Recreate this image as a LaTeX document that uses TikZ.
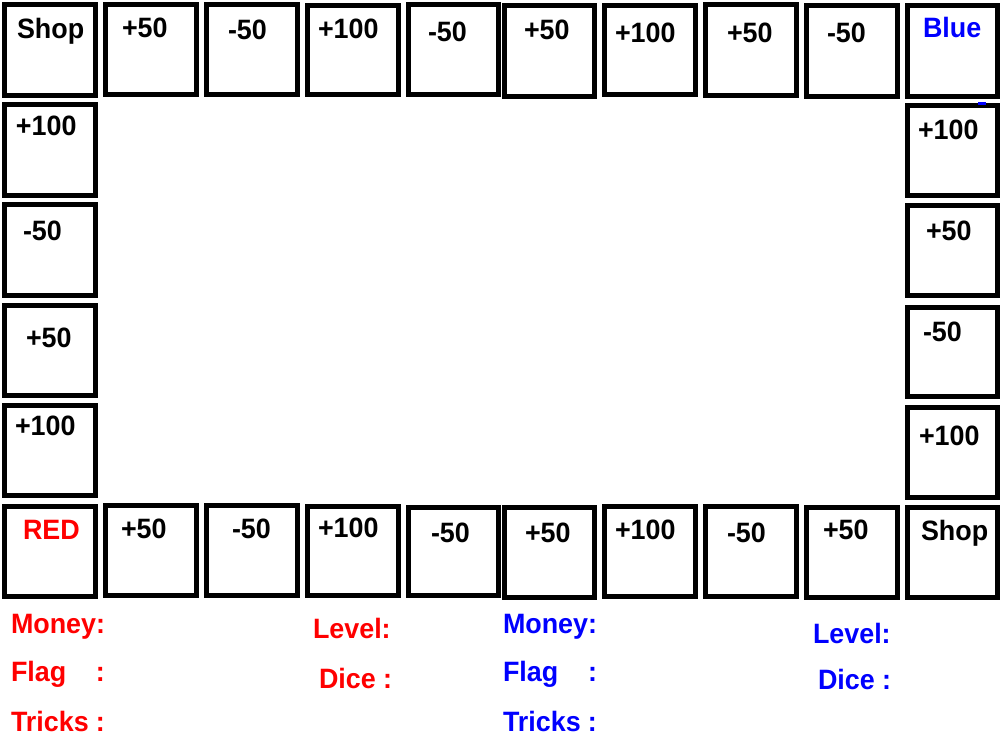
\documentclass[tikz,border=0pt]{standalone}
\usepackage{fontspec}
\newfontfamily\gamefont{Liberation Sans}[FakeStretch=0.96]
\definecolor{pred}{RGB}{255,0,0}
\definecolor{pblue}{RGB}{0,0,255}
\tikzset{
  cell/.style={draw=black, line width=5pt, fill=white, inner sep=0pt, outer sep=0pt},
  lbl/.style={anchor=base west, inner sep=0pt, outer sep=0pt, font=\gamefont\bfseries\fontsize{28}{30}\selectfont},
}
% \cellbox{name}{x1}{y1}{x2}{y2}  (outer edges, pixels, y downward)
\newcommand\cellbox[5]{%
  \pgfmathsetmacro\cw{#4-#2-5}%
  \pgfmathsetmacro\ch{#5-#3-5}%
  \node[cell, minimum width=\cw pt, minimum height=\ch pt] (#1) at ({(#2+#4)/2},{(#3+#5)/2}) {};%
}
\begin{document}
\begin{tikzpicture}[x=1pt,y=-1pt]
\useasboundingbox (0,0) rectangle (1000,750);
\fill[white] (0,0) rectangle (1000,750);
% top row
\cellbox{t1}{2}{2}{98}{98}
\cellbox{t2}{103}{2}{199}{97}
\cellbox{t3}{204}{2}{300}{97}
\cellbox{t4}{305}{3}{401}{97}
\cellbox{t5}{406}{2}{501}{97}
\cellbox{t6}{502}{3}{597}{99}
\cellbox{t7}{602}{3}{698}{97}
\cellbox{t8}{703}{2}{799}{98}
\cellbox{t9}{804}{3}{900}{99}
\cellbox{t10}{905}{3}{1000}{99}
% left column
\cellbox{l1}{2}{102}{98}{198}
\cellbox{l2}{2}{202}{98}{298}
\cellbox{l3}{2}{303}{98}{398}
\cellbox{l4}{2}{403}{98}{498}
% right column
\cellbox{r1}{905}{103}{1000}{198}
\cellbox{r2}{905}{203}{1000}{298}
\cellbox{r3}{905}{305}{1000}{399}
\cellbox{r4}{905}{405}{1000}{500}
% bottom row
\cellbox{b1}{2}{504}{98}{599}
\cellbox{b2}{103}{503}{199}{598}
\cellbox{b3}{204}{503}{300}{598}
\cellbox{b4}{305}{504}{401}{598}
\cellbox{b5}{406}{505}{501}{598}
\cellbox{b6}{502}{505}{597}{600}
\cellbox{b7}{602}{504}{698}{599}
\cellbox{b8}{703}{504}{799}{599}
\cellbox{b9}{804}{505}{900}{600}
\cellbox{b10}{905}{505}{1000}{600}
% small blue mark
\fill[pblue] (978,102) rectangle (986,105);
% labels top row
\node[lbl] (tt1) at (17,38) {Shop};
\node[lbl] (tt2) at (122,37) {+50};
\node[lbl] (tt3) at (228,39) {-50};
\node[lbl] (tt4) at (318,38) {+100};
\node[lbl] (tt5) at (428,41) {-50};
\node[lbl] (tt6) at (524,39) {+50};
\node[lbl] (tt7) at (615,42) {+100};
\node[lbl] (tt8) at (727,42) {+50};
\node[lbl] (tt9) at (827,42) {-50};
\node[lbl, text=pblue] (tt10) at (923,37) {Blue};
% left column labels
\node[lbl] (tl1) at (16,135) {+100};
\node[lbl] (tl2) at (23,240) {-50};
\node[lbl] (tl3) at (26,347) {+50};
\node[lbl] (tl4) at (15,435) {+100};
% right column labels
\node[lbl] (tr1) at (918,139) {+100};
\node[lbl] (tr2) at (926,240) {+50};
\node[lbl] (tr3) at (923,341) {-50};
\node[lbl] (tr4) at (919,445) {+100};
% bottom row labels
\node[lbl, text=pred] (tb1) at (23,539) {RED};
\node[lbl] (tb2) at (121,538) {+50};
\node[lbl] (tb3) at (232,538) {-50};
\node[lbl] (tb4) at (318,537) {+100};
\node[lbl] (tb5) at (431,542) {-50};
\node[lbl] (tb6) at (525,542) {+50};
\node[lbl] (tb7) at (615,539) {+100};
\node[lbl] (tb8) at (727,542) {-50};
\node[lbl] (tb9) at (823,539) {+50};
\node[lbl] (tb10) at (921,540) {Shop};
% red status
\node[lbl, text=pred] (rmoney) at (11,633) {Money:};
\node[lbl, text=pred] (rflag) at (11,681) {\makebox[85pt][l]{Flag}:};
\node[lbl, text=pred] (rtricks) at (11,731) {\makebox[85pt][l]{Tricks}:};
\node[lbl, text=pred] (rlevel) at (313,638) {Level:};
\node[lbl, text=pred] (rdice) at (319,688) {Dice :};
% blue status
\node[lbl, text=pblue] (bmoney) at (503,633) {Money:};
\node[lbl, text=pblue] (bflag) at (503,681) {\makebox[85pt][l]{Flag}:};
\node[lbl, text=pblue] (btricks) at (503,731) {\makebox[85pt][l]{Tricks}:};
\node[lbl, text=pblue] (blevel) at (813,643) {Level:};
\node[lbl, text=pblue] (bdice) at (818,689) {Dice :};
\end{tikzpicture}
\end{document}
